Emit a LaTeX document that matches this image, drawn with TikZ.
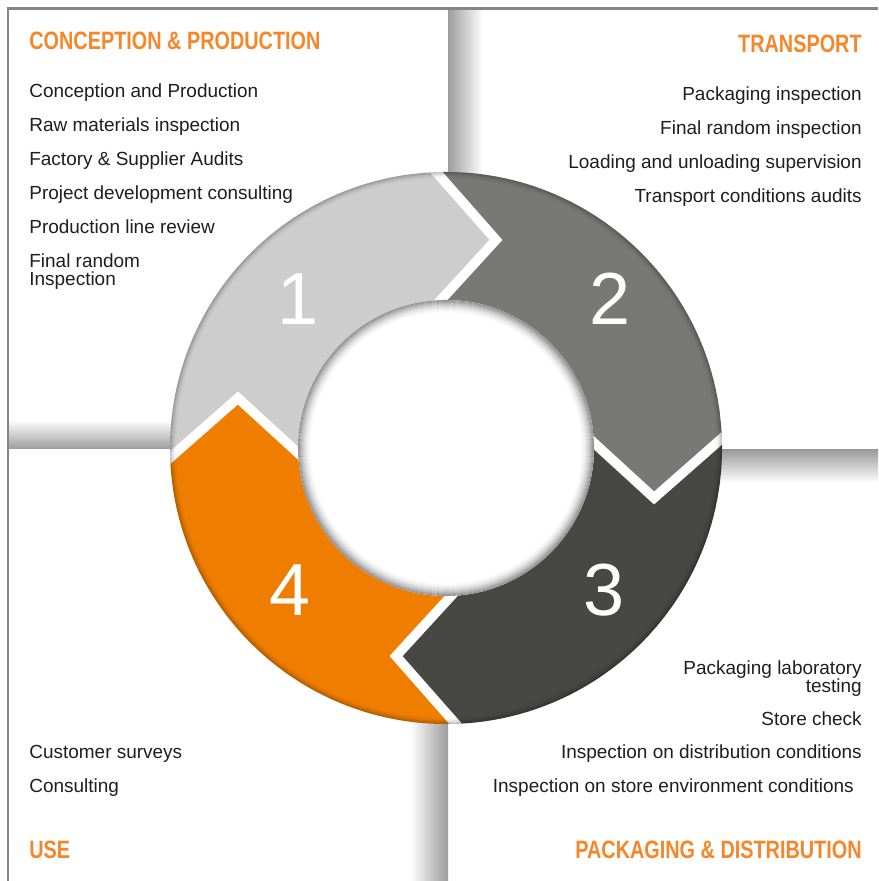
\documentclass[tikz,border=0pt]{standalone}
\usepackage{fontspec}
\setmainfont{Liberation Sans}
\newfontfamily\headfont{Liberation Sans}[FakeStretch=0.79]
\usetikzlibrary{calc}

\definecolor{stepone}{HTML}{CDCDCD}
\definecolor{steptwo}{HTML}{787877}
\definecolor{stepthree}{HTML}{474745}
\definecolor{stepfour}{HTML}{EE7D00}
\definecolor{headorange}{HTML}{F5862A}
\definecolor{framegray}{HTML}{858585}
\definecolor{shadegray}{HTML}{9C9C9C}
\definecolor{textgray}{HTML}{1E1E1E}

\begin{document}
\begin{tikzpicture}[
      x = 0.02cm, y = 0.02cm,
      every node/.style = {inner sep = 0pt},
      item/.style = {text = textgray, font = \fontsize{10.8}{10.8}\selectfont},
      head/.style = {text = headorange, font = \headfont\bfseries\fontsize{14.3}{14.3}\selectfont},
      digit/.style = {text = white, font = \fontsize{42}{42}\selectfont},
      gap/.style = {white, line width = 5.5pt}
      ]
    \useasboundingbox (0,0) rectangle (878,881);
    % card shadows and frame
    \shade[top color = white, bottom color = shadegray] (8,432) rectangle (200,461);
    \shade[top color = shadegray, bottom color = white] (690,398) rectangle (878,431);
    \shade[left color = shadegray, right color = white] (448,690) rectangle (483,871);
    \shade[left color = white, right color = shadegray] (410,0) rectangle (448,181);
    \draw[framegray, line width = 1.1pt] (8,0) -- (8,872);
    \draw[framegray, line width = 1.7pt] (7,872) -- (878,872);
    % cycle
    \begin{scope}[shift = {(446,433)}]
      \coordinate (i12) at (92:148); \coordinate (t12) at (76.5:214); \coordinate (o12) at (92:276);
      \coordinate (i23) at (2:148); \coordinate (t23) at (-13.5:214); \coordinate (o23) at (2:276);
      \coordinate (i34) at (-88:148); \coordinate (t34) at (-103.5:214); \coordinate (o34) at (-88:276);
      \coordinate (i41) at (182:148); \coordinate (t41) at (166.5:214); \coordinate (o41) at (182:276);
      \fill[stepone] (i41) -- (t41) -- (o41) arc[start angle = 182, end angle = 92, radius = 276]
        -- (t12) -- (i12) arc[start angle = 92, end angle = 182, radius = 148] -- cycle;
      \fill[steptwo] (i12) -- (t12) -- (o12) arc[start angle = 92, end angle = 2, radius = 276]
        -- (t23) -- (i23) arc[start angle = 2, end angle = 92, radius = 148] -- cycle;
      \fill[stepthree] (i23) -- (t23) -- (o23) arc[start angle = 2, end angle = -88, radius = 276]
        -- (t34) -- (i34) arc[start angle = -88, end angle = 2, radius = 148] -- cycle;
      \fill[stepfour] (i34) -- (t34) -- (o34) arc[start angle = -88, end angle = -178, radius = 276]
        -- (t41) -- (i41) arc[start angle = -178, end angle = -88, radius = 148] -- cycle;
      \begin{scope}
        \clip (0,0) circle (276);
        \draw[gap] ($(t12)!1.3!(i12)$) -- (t12) -- ($(t12)!1.3!(o12)$);
        \draw[gap] ($(t23)!1.3!(i23)$) -- (t23) -- ($(t23)!1.3!(o23)$);
        \draw[gap] ($(t34)!1.3!(i34)$) -- (t34) -- ($(t34)!1.3!(o34)$);
        \draw[gap] ($(t41)!1.3!(i41)$) -- (t41) -- ($(t41)!1.3!(o41)$);
        % rim
        \foreach \k in {0,...,6} {
          \pgfmathsetmacro{\op}{0.22*(1-\k/7)^2}
          \draw[black, opacity = \op, line width = 0.62pt] (0,0) circle (275.5-\k);
        }
      \end{scope}
      % hole
      \fill[white] (0,0) circle (148);
      \foreach \k in {0,...,13} {
        \pgfmathsetmacro{\op}{0.38*(1-\k/14)^2}
        \draw[black, opacity = \op, line width = 0.62pt] (0,0) circle (147.5-\k);
      }
    \end{scope}
    \node[digit] (n1) at (298,582) {1};
    \node[digit] (n2) at (610,582) {2};
    \node[digit] (n3) at (604,291) {3};
    \node[digit] (n4) at (290,291) {4};
    % conception & production
    \node[head, anchor = base west] (cp) at (29,831) {CONCEPTION \& PRODUCTION};
    \node[item, anchor = base west] (cp1) at (29,783) {Conception and Production};
    \node[item, anchor = base west] (cp2) at (29,749) {Raw materials inspection};
    \node[item, anchor = base west] (cp3) at (29,715) {Factory \& Supplier Audits};
    \node[item, anchor = base west] (cp4) at (29,681) {Project development consulting};
    \node[item, anchor = base west] (cp5) at (29,647) {Production line review};
    \node[item, anchor = base west, align = left] (cp6) at (29,595) {Final random\\Inspection};
    % transport
    \node[head, anchor = base east] (tr) at (862,828) {TRANSPORT};
    \node[item, anchor = base east] (tr1) at (862,780) {Packaging inspection};
    \node[item, anchor = base east] (tr2) at (862,746) {Final random inspection};
    \node[item, anchor = base east] (tr3) at (862,712) {Loading and unloading supervision};
    \node[item, anchor = base east] (tr4) at (862,678) {Transport conditions audits};
    % packaging & distribution
    \node[item, anchor = base east, align = right] (pd1) at (862,188) {Packaging laboratory\\testing};
    \node[item, anchor = base east] (pd2) at (862,155) {Store check};
    \node[item, anchor = base east] (pd3) at (862,122) {Inspection on distribution conditions};
    \node[item, anchor = base east] (pd4) at (854,88) {Inspection on store environment conditions};
    \node[head, anchor = base east] (pd) at (862,22) {PACKAGING \& DISTRIBUTION};
    % use
    \node[item, anchor = base west] (us1) at (29,122) {Customer surveys};
    \node[item, anchor = base west] (us2) at (29,88) {Consulting};
    \node[head, anchor = base west] (us) at (29,22) {USE};
  \end{tikzpicture}
\end{document}
